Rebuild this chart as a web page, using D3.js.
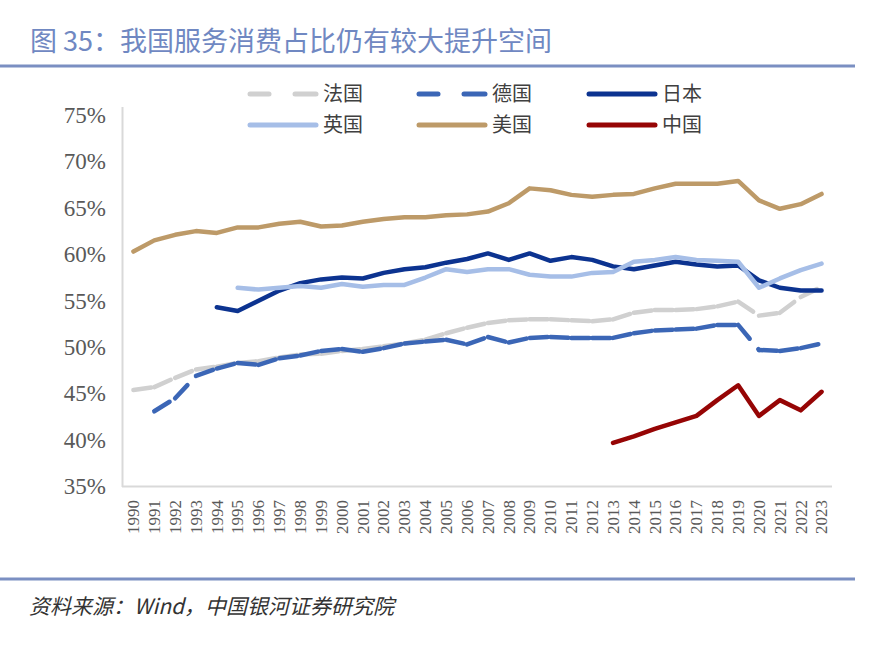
<!DOCTYPE html>
<html>
<head>
<meta charset="utf-8">
<script src="https://cdn.jsdelivr.net/npm/d3@7/dist/d3.min.js"></script>
<style>
	body { margin: 0; background: #fff; }
	svg text { font-family: "Liberation Serif", "Noto Sans CJK SC", serif; }
	.cjk { font-family: "Noto Sans CJK SC", sans-serif; }
</style>
</head>
<body>
<svg id="chart" width="896" height="666"></svg>
<script>
var years = d3.range(1990, 2024)
var yTicks = [35, 40, 45, 50, 55, 60, 65, 70, 75]

// values in %, null = no data
var france = [45.4, 45.7, 46.7, 47.6, 47.9, 48.3, 48.5, 48.9, 49.2, 49.3, 49.6, 49.8, 50.1, 50.4, 50.8, 51.5, 52.1, 52.6, 52.9, 53.0, 53.0, 52.9, 52.8, 53.0, 53.7, 54.0, 54.0, 54.1, 54.4, 54.9, 53.4, 53.7, 55.4, 56.5]
var germany = [null, 43.1, 44.5, 46.9, 47.7, 48.3, 48.1, 48.8, 49.1, 49.6, 49.8, 49.5, 49.9, 50.4, 50.6, 50.8, 50.3, 51.1, 50.5, 51.0, 51.1, 51.0, 51.0, 51.0, 51.5, 51.8, 51.9, 52.0, 52.4, 52.4, 49.7, 49.6, 49.9, 50.4]
var japan = [null, null, null, null, 54.3, 53.9, 55.0, 56.1, 56.9, 57.3, 57.5, 57.4, 58.0, 58.4, 58.6, 59.1, 59.5, 60.1, 59.4, 60.1, 59.3, 59.7, 59.4, 58.7, 58.4, 58.8, 59.2, 58.9, 58.7, 58.8, 57.2, 56.4, 56.1, 56.1]
var uk = [null, null, null, null, null, 56.4, 56.2, 56.4, 56.6, 56.4, 56.8, 56.5, 56.7, 56.7, 57.5, 58.4, 58.1, 58.4, 58.4, 57.8, 57.6, 57.6, 58.0, 58.1, 59.2, 59.4, 59.7, 59.4, 59.3, 59.2, 56.4, 57.4, 58.3, 59.0]
var usa = [60.3, 61.5, 62.1, 62.5, 62.3, 62.9, 62.9, 63.3, 63.5, 63.0, 63.1, 63.5, 63.8, 64.0, 64.0, 64.2, 64.3, 64.6, 65.5, 67.1, 66.9, 66.4, 66.2, 66.4, 66.5, 67.1, 67.6, 67.6, 67.6, 67.9, 65.8, 64.9, 65.4, 66.5]
var china = [null, null, null, null, null, null, null, null, null, null, null, null, null, null, null, null, null, null, null, null, null, null, null, 39.7, 40.4, 41.2, 41.9, 42.6, 44.3, 45.9, 42.6, 44.3, 43.2, 45.2]

var seriesNames = ["法国", "德国", "日本", "英国", "美国", "中国"]
var seriesData = [france, germany, japan, uk, usa, china]
var seriesColors = ["#d0d0d0", "#3b66b6", "#0c3390", "#a6bee7", "#bd9a68", "#960505"]
var seriesDashed = [true, true, false, false, false, false]

var svg = d3.select("#chart")
var lineW = 4.5

// title + rules
svg.append("text").attr("class", "cjk")
	.attr("x", 30).attr("y", 51)
	.attr("font-size", 27).attr("fill", "#7088c2")
	.text("图 35：我国服务消费占比仍有较大提升空间")
svg.append("line").attr("x1", 0).attr("x2", 855).attr("y1", 66).attr("y2", 66)
	.attr("stroke", "#7b8fc2").attr("stroke-width", 3)
svg.append("line").attr("x1", 0).attr("x2", 855).attr("y1", 579).attr("y2", 579)
	.attr("stroke", "#7b8fc2").attr("stroke-width", 3)
svg.append("text").attr("class", "cjk")
	.attr("x", 29).attr("y", 614)
	.attr("font-size", 21).attr("fill", "#333").attr("font-style", "italic")
	.text("资料来源：Wind，中国银河证券研究院")

var x = d3.scaleBand().domain(years).range([123, 832])
var y = d3.scaleLinear().domain([35, 75]).range([486.5, 115])
var cx = function(yr) { return x(yr) + x.bandwidth() / 2 }

// axes
svg.append("line").attr("x1", 122.5).attr("x2", 122.5).attr("y1", 107).attr("y2", 487)
	.attr("stroke", "#d9d9d9").attr("stroke-width", 2)
svg.append("line").attr("x1", 122).attr("x2", 832).attr("y1", 486.5).attr("y2", 486.5)
	.attr("stroke", "#d9d9d9").attr("stroke-width", 2)

svg.selectAll(".ytick").data(yTicks).enter().append("text")
	.attr("class", "ytick")
	.attr("x", 106).attr("y", function(d) { return y(d) })
	.attr("dy", "0.34em")
	.attr("text-anchor", "end")
	.attr("font-size", 23).attr("fill", "#595959")
	.text(function(d) { return d + "%" })

svg.selectAll(".xtick").data(years).enter().append("text")
	.attr("class", "xtick")
	.attr("transform", function(d) { return "translate(" + cx(d) + ",500) rotate(-90)" })
	.attr("dy", "0.34em")
	.attr("text-anchor", "end")
	.attr("font-size", 17).attr("fill", "#595959")
	.text(function(d) { return d })

// lines
var line = d3.line()
	.defined(function(d) { return d.v != null })
	.x(function(d) { return cx(d.yr) })
	.y(function(d) { return y(d.v) })

var g = svg.append("g")
seriesData.forEach(function(arr, i) {
	var pts = years.map(function(yr, j) { return { yr: yr, v: arr[j] } })
	if (seriesDashed[i]) {
		// dash pattern restarts at every point, like the office chart
		d3.pairs(pts).forEach(function(p) {
			if (p[0].v == null || p[1].v == null) return
			g.append("path")
				.attr("d", line(p))
				.attr("fill", "none")
				.attr("stroke", seriesColors[i])
				.attr("stroke-width", lineW)
				.attr("stroke-linecap", "round")
				.attr("stroke-dasharray", "18,13.5")
		})
	} else {
		g.append("path")
			.attr("d", line(pts))
			.attr("fill", "none")
			.attr("stroke", seriesColors[i])
			.attr("stroke-width", lineW)
			.attr("stroke-linejoin", "round")
			.attr("stroke-linecap", "round")
	}
})

// legend
var legX = [250, 419, 589]
var legY = [94, 125]
seriesNames.forEach(function(name, i) {
	var lx = legX[i % 3], ly = legY[Math.floor(i / 3)]
	var lg = svg.append("g")
	if (seriesDashed[i]) {
		[[lx, lx + 19], [lx + 45, lx + 66]].forEach(function(s) {
			lg.append("line").attr("x1", s[0]).attr("x2", s[1]).attr("y1", ly).attr("y2", ly)
				.attr("stroke", seriesColors[i]).attr("stroke-width", lineW + 0.5)
				.attr("stroke-linecap", "round")
		})
	} else {
		lg.append("line").attr("x1", lx).attr("x2", lx + 66).attr("y1", ly).attr("y2", ly)
			.attr("stroke", seriesColors[i]).attr("stroke-width", lineW + 0.5)
			.attr("stroke-linecap", "round")
	}
	lg.append("text").attr("class", "cjk")
		.attr("x", lx + 73).attr("y", ly).attr("dy", "0.36em")
		.attr("font-size", 20).attr("fill", "#404040")
		.text(name)
})
</script>
</body>
</html>
